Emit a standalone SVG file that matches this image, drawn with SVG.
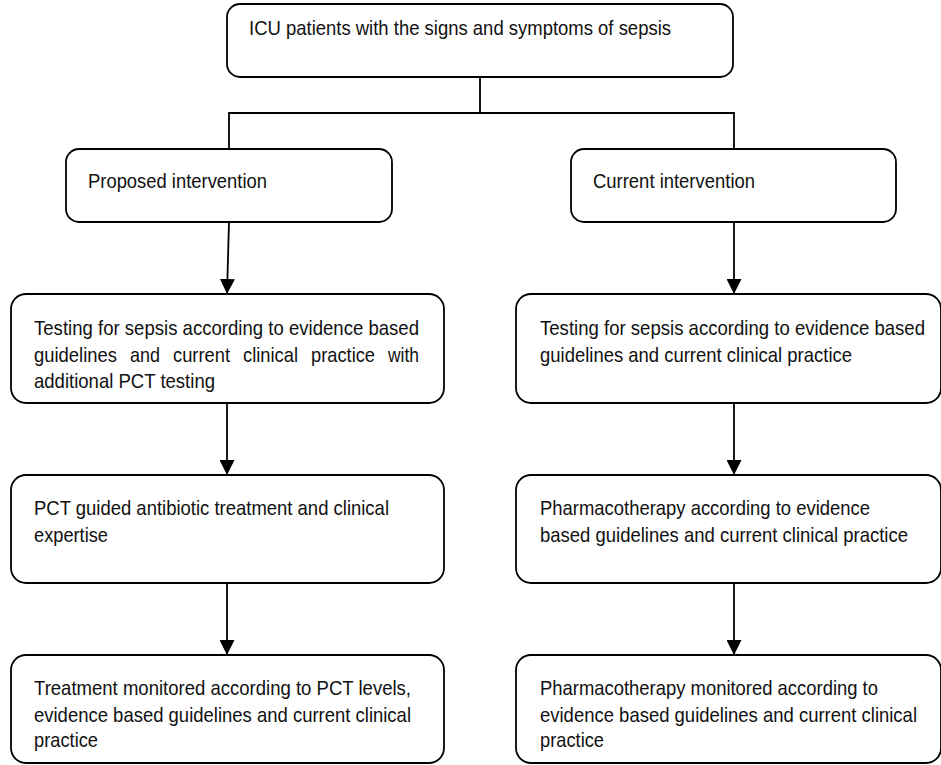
<svg xmlns="http://www.w3.org/2000/svg" width="941" height="765" viewBox="0 0 941 765">
<style>
.box{fill:#fff;stroke:#000;stroke-width:1.8}
.ln{fill:none;stroke:#000;stroke-width:1.8}
text{font-family:"Liberation Sans",Arial,sans-serif;font-size:21px;fill:#111}
</style>
<defs>
<marker id="arr" markerUnits="userSpaceOnUse" markerWidth="15" markerHeight="15" viewBox="0 0 14 14" refX="14" refY="7" orient="auto">
<path d="M0,0 L14,7 L0,14 Z" fill="#000"/>
</marker>
</defs>
<rect width="941" height="765" fill="#fff"/>
<g id="connectors">
<path class="ln" d="M480,77 V113 M229,149 V113 H734 V149"/>
<path class="ln" d="M229,222 L227,294" marker-end="url(#arr)"/>
<path class="ln" d="M734,222 V294" marker-end="url(#arr)"/>
<path class="ln" d="M227,403 V475" marker-end="url(#arr)"/>
<path class="ln" d="M734,403 V475" marker-end="url(#arr)"/>
<path class="ln" d="M227,583 V655" marker-end="url(#arr)"/>
<path class="ln" d="M734,583 V655" marker-end="url(#arr)"/>
</g>
<g id="top">
<rect class="box" x="227" y="4" width="506" height="73" rx="13"/>
<text x="249" y="35" textLength="422" lengthAdjust="spacingAndGlyphs">ICU patients with the signs and symptoms of sepsis</text>
</g>
<g id="proposed">
<rect class="box" x="66" y="149" width="326" height="73" rx="13"/>
<text x="88" y="188" textLength="179" lengthAdjust="spacingAndGlyphs">Proposed intervention</text>
</g>
<g id="current">
<rect class="box" x="571" y="149" width="325" height="73" rx="13"/>
<text x="593" y="188" textLength="162" lengthAdjust="spacingAndGlyphs">Current intervention</text>
</g>
<g id="testing-left">
<rect class="box" x="11" y="294" width="433" height="109" rx="15"/>
<text x="34" y="335" textLength="385" lengthAdjust="spacingAndGlyphs">Testing for sepsis according to evidence based</text>
<text x="34" y="362" textLength="83" lengthAdjust="spacingAndGlyphs">guidelines</text>
<text x="130" y="362" textLength="30" lengthAdjust="spacingAndGlyphs">and</text>
<text x="173" y="362" textLength="57" lengthAdjust="spacingAndGlyphs">current</text>
<text x="243" y="362" textLength="55" lengthAdjust="spacingAndGlyphs">clinical</text>
<text x="311" y="362" textLength="64" lengthAdjust="spacingAndGlyphs">practice</text>
<text x="388" y="362" textLength="31" lengthAdjust="spacingAndGlyphs">with</text>
<text x="34" y="388" textLength="181" lengthAdjust="spacingAndGlyphs">additional PCT testing</text>
</g>
<g id="testing-right">
<rect class="box" x="516" y="294" width="425" height="109" rx="15"/>
<text x="540" y="335" textLength="385" lengthAdjust="spacingAndGlyphs">Testing for sepsis according to evidence based</text>
<text x="540" y="362" textLength="312" lengthAdjust="spacingAndGlyphs">guidelines and current clinical practice</text>
</g>
<g id="pct-left">
<rect class="box" x="11" y="475" width="433" height="108" rx="15"/>
<text x="34" y="515" textLength="355" lengthAdjust="spacingAndGlyphs">PCT guided antibiotic treatment and clinical</text>
<text x="34" y="542" textLength="74" lengthAdjust="spacingAndGlyphs">expertise</text>
</g>
<g id="pharma-right">
<rect class="box" x="516" y="475" width="425" height="108" rx="15"/>
<text x="540" y="515" textLength="330" lengthAdjust="spacingAndGlyphs">Pharmacotherapy according to evidence</text>
<text x="540" y="542" textLength="368" lengthAdjust="spacingAndGlyphs">based guidelines and current clinical practice</text>
</g>
<g id="monitor-left">
<rect class="box" x="11" y="655" width="433" height="108" rx="15"/>
<text x="34" y="695" textLength="377" lengthAdjust="spacingAndGlyphs">Treatment monitored according to PCT levels,</text>
<text x="34" y="722" textLength="377" lengthAdjust="spacingAndGlyphs">evidence based guidelines and current clinical</text>
<text x="34" y="747" textLength="64" lengthAdjust="spacingAndGlyphs">practice</text>
</g>
<g id="monitor-right">
<rect class="box" x="516" y="655" width="425" height="108" rx="15"/>
<text x="540" y="695" textLength="338" lengthAdjust="spacingAndGlyphs">Pharmacotherapy monitored according to</text>
<text x="540" y="722" textLength="377" lengthAdjust="spacingAndGlyphs">evidence based guidelines and current clinical</text>
<text x="540" y="747" textLength="64" lengthAdjust="spacingAndGlyphs">practice</text>
</g>
</svg>
